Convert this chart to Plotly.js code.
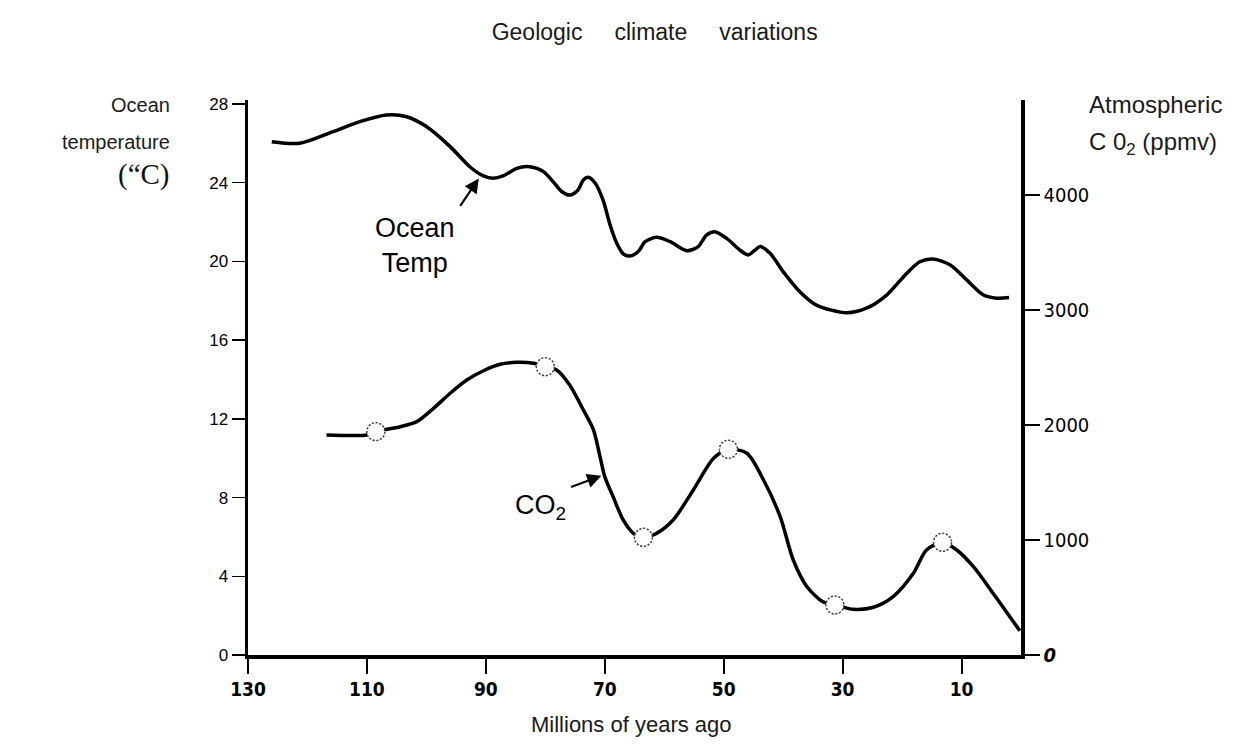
<!DOCTYPE html>
<html>
<head>
<meta charset="utf-8">
<script src="https://cdn.plot.ly/plotly-3.0.1.min.js"></script>
<style>
  html, body { margin: 0; padding: 0; background: #fff; }
  #chart { width: 1259px; height: 753px; }
  .js-plotly-plot .scatterlayer .points path.point { stroke-dasharray: 2.2px 1.6px; }
</style>
</head>
<body>
<div id="chart"></div>
<script>
// Ocean temperature (°C) vs millions of years ago
const tempYears = [126.0, 121.3, 115.7, 111.2, 106.7, 103.3, 100.0, 96.0, 92.7, 90.4, 88.8, 87.1, 84.8, 82.6, 80.3, 78.7, 77.2, 75.9, 74.5, 73.6, 72.8, 71.6, 70.3, 69.1, 68.0, 66.9, 65.8, 64.4, 63.2, 61.3, 59.0, 56.2, 54.3, 52.9, 51.5, 49.5, 47.3, 45.9, 44.7, 43.9, 42.2, 40.0, 37.2, 34.4, 29.3, 26.0, 22.6, 19.2, 17.0, 14.8, 11.9, 9.1, 6.3, 4.1, 2.0];
const tempValues = [26.08, 26.0, 26.59, 27.10, 27.44, 27.35, 26.85, 25.83, 24.81, 24.34, 24.22, 24.34, 24.73, 24.81, 24.56, 24.05, 23.54, 23.37, 23.63, 24.14, 24.27, 23.97, 23.12, 21.85, 20.93, 20.38, 20.27, 20.49, 21.0, 21.22, 21.0, 20.54, 20.75, 21.34, 21.51, 21.17, 20.58, 20.33, 20.58, 20.75, 20.41, 19.48, 18.46, 17.78, 17.39, 17.62, 18.29, 19.4, 19.98, 20.12, 19.82, 19.05, 18.29, 18.13, 18.16];

// Atmospheric CO2 (ppmv) vs millions of years ago
const co2Years = [116.8, 110.0, 108.5, 104.4, 101.6, 98.8, 96.0, 93.2, 90.4, 87.6, 84.8, 82.0, 80.0, 78.1, 75.9, 73.6, 71.9, 70.8, 70.0, 68.6, 66.9, 65.2, 63.5, 61.3, 58.5, 55.1, 51.7, 49.2, 46.1, 43.3, 40.5, 38.3, 36.0, 33.3, 31.3, 28.2, 24.8, 21.5, 18.1, 15.9, 13.2, 10.8, 8.0, 4.7, 0.2];
const co2Values = [1913, 1913, 1942, 1985, 2029, 2145, 2276, 2391, 2472, 2528, 2545, 2537, 2507, 2478, 2348, 2131, 1957, 1725, 1551, 1377, 1174, 1058, 1023, 1058, 1174, 1435, 1710, 1789, 1754, 1522, 1203, 826, 594, 463, 435, 397, 415, 507, 710, 913, 980, 913, 768, 537, 211];

// Data-point circles on the CO2 curve
const co2MarkerYears = [108.5, 80.0, 63.5, 49.2, 31.3, 13.2];
const co2MarkerValues = [1942, 2507, 1023, 1789, 435, 980];

// Axis ticks
const xTicks = [130, 110, 90, 70, 50, 30, 10];
const tempTicks = [0, 4, 8, 12, 16, 20, 24, 28];
const co2Ticks = [0, 1000, 2000, 3000, 4000];
const co2TickText = ['<b><i>0</i></b>', '1000', '2000', '3000', '4000'];

// Arrow targets for the curve labels
const oceanArrow = {year: 91.0, value: 24.3};
const co2Arrow = {year: 70.25, value: 1565};

const SANS = 'Liberation Sans, Arial, sans-serif';
const NARROW = 'Liberation Sans Narrow, Arial Narrow, DejaVu Sans Condensed, Liberation Sans, sans-serif';
const NB = '&nbsp;&nbsp;&nbsp;&nbsp;&nbsp;';

const traces = [
  {
    x: tempYears, y: tempValues, type: 'scatter', mode: 'lines',
    line: {color: '#000', width: 3.5, shape: 'spline', smoothing: 0.8},
    hoverinfo: 'skip', showlegend: false
  },
  {
    x: co2Years, y: co2Values, yaxis: 'y2', type: 'scatter', mode: 'lines',
    line: {color: '#000', width: 3.5, shape: 'spline', smoothing: 0.8},
    hoverinfo: 'skip', showlegend: false
  },
  {
    x: co2MarkerYears, y: co2MarkerValues, yaxis: 'y2', type: 'scatter', mode: 'markers',
    marker: {symbol: 'circle', size: 18, color: '#fff', line: {color: '#444', width: 1.5}},
    hoverinfo: 'skip', showlegend: false
  }
];

const layout = {
  width: 1259, height: 753,
  paper_bgcolor: '#fff', plot_bgcolor: '#fff',
  margin: {l: 248, r: 238, t: 100, b: 98},
  showlegend: false,
  title: {
    text: 'Geologic' + NB + 'climate' + NB + 'variations',
    x: 0.52, xanchor: 'center', y: 0.957, yanchor: 'middle',
    font: {family: SANS, size: 23, color: '#1a1a1a'}
  },
  xaxis: {
    range: [130, 0], tickvals: xTicks, ticktext: xTicks.map(String),
    showgrid: false, zeroline: false,
    showline: true, linecolor: '#000', linewidth: 3.5,
    ticks: 'outside', ticklen: 15, tickwidth: 2, tickcolor: '#000',
    tickfont: {family: NARROW, size: 19, color: '#000', weight: 'bold'}
  },
  yaxis: {
    range: [0, 28.2], tickvals: tempTicks,
    showgrid: false, zeroline: false,
    showline: true, linecolor: '#000', linewidth: 3.5,
    ticks: 'outside', ticklen: 13, tickwidth: 1.5, tickcolor: '#000',
    tickfont: {family: SANS, size: 17, color: '#000'}
  },
  yaxis2: {
    overlaying: 'y', side: 'right',
    range: [0, 4826], tickvals: co2Ticks, ticktext: co2TickText,
    showgrid: false, zeroline: false,
    showline: true, linecolor: '#000', linewidth: 3.5,
    ticks: 'outside', ticklen: 15, tickwidth: 2, tickcolor: '#000',
    tickfont: {family: NARROW, size: 20, color: '#000'}
  },
  annotations: [
    // Left axis title
    {xref: 'paper', yref: 'paper', x: -0.098, y: 0.991, xanchor: 'right', yanchor: 'middle',
     text: 'Ocean', showarrow: false, font: {family: SANS, size: 20, color: '#1a1a1a'}},
    {xref: 'paper', yref: 'paper', x: -0.098, y: 0.9245, xanchor: 'right', yanchor: 'middle',
     text: 'temperature', showarrow: false, font: {family: SANS, size: 20, color: '#1a1a1a'}},
    {xref: 'paper', yref: 'paper', x: -0.098, y: 0.8665, xanchor: 'right', yanchor: 'middle',
     text: '(“C)', showarrow: false, font: {family: 'Liberation Serif, Times New Roman, serif', size: 29, color: '#111'}},
    // Right axis title
    {xref: 'paper', yref: 'paper', x: 1.0854, y: 0.991, xanchor: 'left', yanchor: 'middle',
     text: 'Atmospheric', showarrow: false, font: {family: SANS, size: 24, color: '#1a1a1a'}},
    {xref: 'paper', yref: 'paper', x: 1.0854, y: 0.9225, xanchor: 'left', yanchor: 'middle',
     text: 'C 0<sub>2</sub> (ppmv)', showarrow: false, font: {family: SANS, size: 24, color: '#1a1a1a'}},
    // X axis title
    {xref: 'paper', yref: 'paper', x: 0.4955, y: -0.126, xanchor: 'center', yanchor: 'middle',
     text: 'Millions of years ago', showarrow: false, font: {family: SANS, size: 22, color: '#1a1a1a'}},
    // Curve labels with arrows
    {xref: 'x', yref: 'y', x: oceanArrow.year, y: oceanArrow.value, ax: -23, ay: 34,
     xanchor: 'right', yanchor: 'top', align: 'center',
     text: 'Ocean<br>Temp', font: {family: SANS, size: 27, color: '#000'},
     showarrow: true, arrowhead: 2, arrowsize: 1.3, arrowwidth: 2.2, arrowcolor: '#000',
     standoff: 2, startstandoff: 6},
    {xref: 'x', yref: 'y2', x: co2Arrow.year, y: co2Arrow.value, ax: -35, ay: 13,
     xanchor: 'right', yanchor: 'top',
     text: 'CO<sub>2</sub>', font: {family: SANS, size: 27, color: '#000'},
     showarrow: true, arrowhead: 2, arrowsize: 1.3, arrowwidth: 2.2, arrowcolor: '#000',
     standoff: 2, startstandoff: 3}
  ]
};

Plotly.newPlot('chart', traces, layout, {displayModeBar: false, staticPlot: true});
</script>
</body>
</html>
